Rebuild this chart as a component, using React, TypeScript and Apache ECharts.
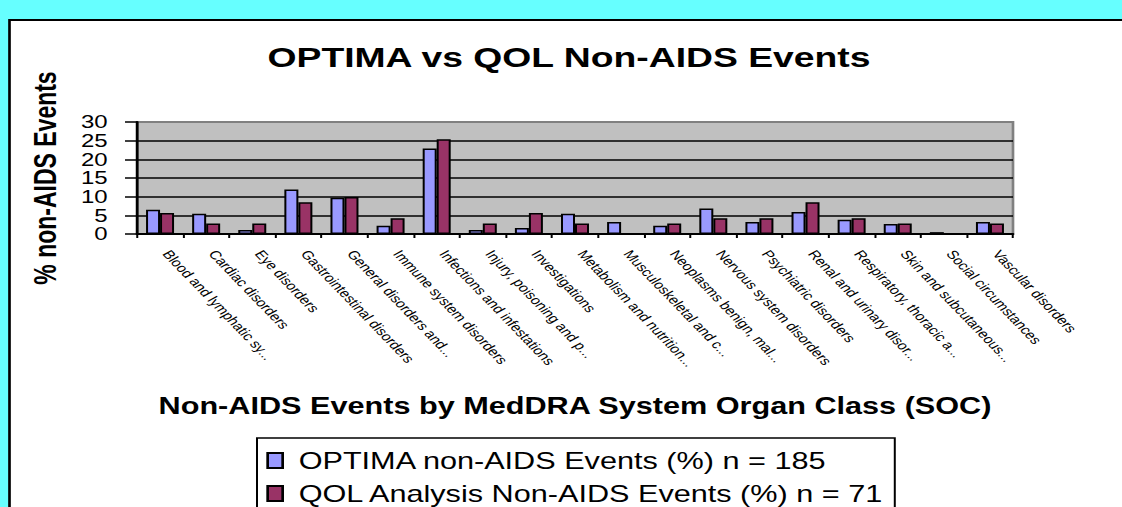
import React, { useEffect, useRef } from "react";
import * as echarts from "echarts";

const categories = [
  "Blood and lymphatic sy...",
  "Cardiac disorders",
  "Eye disorders",
  "Gastrointestinal disorders",
  "General disorders and...",
  "Immune system disorders",
  "Infections and infestations",
  "Injury, poisoning and p...",
  "Investigations",
  "Metabolism and nutrition...",
  "Musculoskeletal and c...",
  "Neoplasms benign, mal...",
  "Nervous system disorders",
  "Psychiatric disorders",
  "Renal and urinary disor...",
  "Respiratory, thoracic a...",
  "Skin and subcutaneous...",
  "Social circumstances",
  "Vascular disorders",
];

const optimaValues = [6.5, 5.4, 1.1, 11.9, 9.7, 2.2, 22.9, 1.1, 1.6, 5.4, 3.2, 2.2, 6.8, 3.2, 5.9, 3.8, 2.7, 0.5, 3.2];
const qolValues = [5.6, 2.8, 2.8, 8.5, 9.9, 4.2, 25.4, 2.8, 5.6, 2.8, 0, 2.8, 4.2, 4.2, 8.5, 4.2, 2.8, 0, 2.8];

const seriesNames = [
  "OPTIMA non-AIDS Events (%) n = 185",
  "QOL Analysis Non-AIDS Events (%) n = 71",
];

const yTicks = { min: 0, max: 30, interval: 5 };

const titleText = "OPTIMA vs QOL Non-AIDS Events";
const xAxisTitle = "Non-AIDS Events by MedDRA System Organ Class (SOC)";
const yAxisTitle = "% non-AIDS Events";

// The reference is a 4:3 slide stretched horizontally to the page width.
const W = 842;
const H = 507;
const S = 1122 / W;
const FONT = "'Liberation Sans', Arial, Helvetica, sans-serif";

export default function App() {
  const ref = useRef<HTMLDivElement>(null);

  useEffect(() => {
    if (!ref.current) return;
    const chart = echarts.init(ref.current, null, { renderer: "svg" });
    const gridLeft = 137 / S;
    const gridRight = W - 1013 / S;
    chart.setOption({
      animation: false,
      backgroundColor: "#66FFFF",
      textStyle: { fontFamily: FONT },
      graphic: [
        {
          type: "rect",
          z: -10,
          shape: { x: 9.5 / S, y: 20, width: 2000, height: 1000 },
          style: { fill: "#FFFFFF", stroke: "#000000", lineWidth: 2 },
          silent: true,
        },
      ],
      title: {
        text: titleText,
        left: 569 / S,
        textAlign: "center",
        top: 43,
        padding: 0,
        textStyle: { fontSize: 28, fontWeight: "bold", color: "#000", fontFamily: FONT },
      },
      legend: {
        orient: "vertical",
        left: 257 / S,
        top: 438,
        height: 120,
        padding: [11, 7, 12, 7],
        itemWidth: 15 / S,
        itemHeight: 15,
        itemGap: 10,
        selectedMode: false,
        borderColor: "#000",
        borderWidth: 1.5,
        icon: "rect",
        textStyle: { fontSize: 23, color: "#000", fontFamily: FONT, padding: [0, 0, 0, 7] },
        data: seriesNames,
      },
      grid: {
        left: gridLeft,
        right: gridRight,
        top: 122,
        bottom: H - 234,
        show: true,
        backgroundColor: "#C0C0C0",
        borderColor: "#808080",
        borderWidth: 2,
      },
      xAxis: {
        type: "category",
        data: categories,
        name: xAxisTitle,
        nameLocation: "middle",
        nameGap: 160,
        nameTextStyle: { fontSize: 23, fontWeight: "bold", color: "#000", fontFamily: FONT },
        axisLine: { lineStyle: { color: "#000", width: 2 } },
        axisTick: { show: true, length: 4, lineStyle: { color: "#000", width: 1.5 } },
        axisLabel: {
          interval: 0,
          rotate: -54,
          fontSize: 12,
          margin: 11,
          padding: [0, 0, 0, 8],
          color: "#000",
          fontFamily: FONT,
        },
        splitLine: { show: false },
      },
      yAxis: {
        type: "value",
        min: yTicks.min,
        max: yTicks.max,
        interval: yTicks.interval,
        name: yAxisTitle,
        nameLocation: "middle",
        nameRotate: 90,
        nameGap: 57,
        nameTextStyle: { fontSize: 23, fontWeight: "bold", color: "#000", fontFamily: FONT },
        axisLine: { show: true, lineStyle: { color: "#000", width: 2 } },
        axisTick: { show: true, length: 9, lineStyle: { color: "#000", width: 1.5 } },
        axisLabel: {
          fontSize: 18,
          margin: 22,
          color: "#000",
          fontFamily: FONT,
          showMinLabel: true,
          showMaxLabel: true,
          hideOverlap: false,
        },
        splitLine: { show: true, showMaxLine: false, lineStyle: { color: "#000", width: 1.5 } },
      },
      series: [
        {
          name: seriesNames[0],
          type: "bar",
          data: optimaValues,
          barWidth: 14 / S,
          barGap: "0%",
          itemStyle: { color: "#9999FF", borderColor: "#000", borderWidth: 1.5 },
        },
        {
          name: seriesNames[1],
          type: "bar",
          data: qolValues,
          barWidth: 14 / S,
          barGap: "0%",
          itemStyle: { color: "#993366", borderColor: "#000", borderWidth: 1.5 },
        },
      ],
    });
    return () => chart.dispose();
  }, []);

  return (
    <div
      style={{
        position: "fixed",
        left: 0,
        top: 0,
        width: 1122,
        height: 507,
        overflow: "hidden",
        background: "#66FFFF",
      }}
    >
      <div
        ref={ref}
        style={{
          width: W,
          height: H,
          transform: `scaleX(${S})`,
          transformOrigin: "0 0",
        }}
      />
    </div>
  );
}
